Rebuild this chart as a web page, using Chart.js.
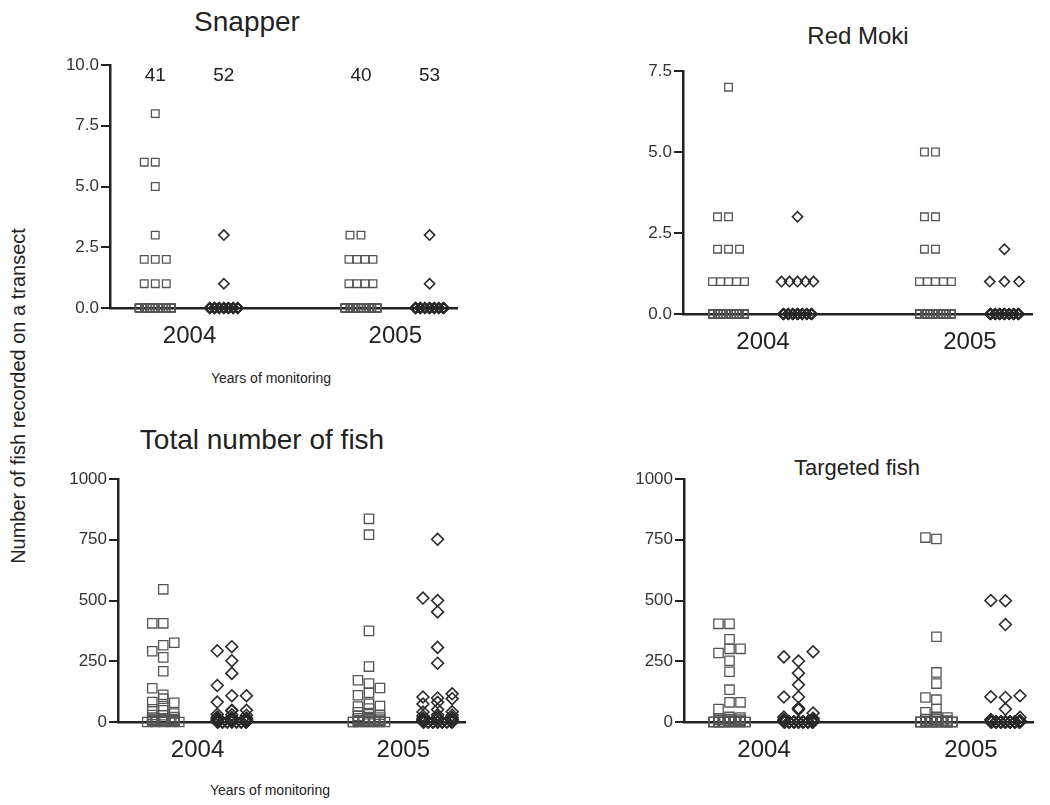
<!DOCTYPE html>
<html>
<head>
<meta charset="utf-8">
<script src="https://cdn.jsdelivr.net/npm/chart.js@4.4.1/dist/chart.umd.min.js"></script>
<style>
  html, body { margin: 0; padding: 0; background: #fff; }
  body { width: 1050px; height: 805px; position: relative; overflow: hidden;
         font-family: "Liberation Sans", Arial, sans-serif; color: #222; }
  canvas { position: absolute; }
  .txt { position: absolute; white-space: nowrap; transform: translate(-50%, -50%); }
  .axis-title { font-size: 14px; }
  .ylab { font-size: 20px; transform: translate(-50%, -50%) rotate(-90deg); }
</style>
</head>
<body>
<div class="txt" style="left:247px;top:22px;font-size:28px">Snapper</div>
<div class="txt" style="left:858px;top:36px;font-size:24px">Red Moki</div>
<div class="txt" style="left:262px;top:440px;font-size:28px">Total number of fish</div>
<div class="txt" style="left:857px;top:468px;font-size:22px">Targeted fish</div>
<div class="txt axis-title" style="left:271px;top:378px">Years of monitoring</div>
<div class="txt axis-title" style="left:270px;top:790px">Years of monitoring</div>
<div class="txt ylab" style="left:18px;top:396px">Number of fish recorded on a transect</div>

<canvas id="snapper" width="427" height="318" style="left:40px;top:50px"></canvas>
<canvas id="moki" width="429" height="318" style="left:613px;top:56px"></canvas>
<canvas id="total" width="427" height="318" style="left:48px;top:464px"></canvas>
<canvas id="targeted" width="429" height="318" style="left:614px;top:464px"></canvas>

<script>
// Monitoring years and transect sample sizes per site
const years = ['2004', '2005'];
const snapperN = [41, 52, 40, 53];

// Snapper counts per transect (site A = squares, site B = diamonds)
const snapperA2004 = [8, 6, 6, 5, 3, 2, 2, 2, 1, 1, 1,
  0, 0, 0, 0, 0, 0, 0, 0, 0, 0, 0, 0, 0, 0, 0, 0, 0, 0, 0, 0, 0, 0, 0, 0, 0, 0, 0, 0, 0, 0];
const snapperB2004 = [3, 1,
  0, 0, 0, 0, 0, 0, 0, 0, 0, 0, 0, 0, 0, 0, 0, 0, 0, 0, 0, 0, 0, 0, 0, 0, 0,
  0, 0, 0, 0, 0, 0, 0, 0, 0, 0, 0, 0, 0, 0, 0, 0, 0, 0, 0, 0, 0, 0, 0, 0, 0];
const snapperA2005 = [3, 3, 2, 2, 2, 2, 1, 1, 1, 1,
  0, 0, 0, 0, 0, 0, 0, 0, 0, 0, 0, 0, 0, 0, 0, 0, 0, 0, 0, 0, 0, 0, 0, 0, 0, 0, 0, 0, 0, 0];
const snapperB2005 = [3, 1,
  0, 0, 0, 0, 0, 0, 0, 0, 0, 0, 0, 0, 0, 0, 0, 0, 0, 0, 0, 0, 0, 0, 0, 0, 0,
  0, 0, 0, 0, 0, 0, 0, 0, 0, 0, 0, 0, 0, 0, 0, 0, 0, 0, 0, 0, 0, 0, 0, 0, 0, 0];

// Red moki counts per transect
const mokiA2004 = [7, 3, 3, 2, 2, 2, 1, 1, 1, 1, 1,
  0, 0, 0, 0, 0, 0, 0, 0, 0, 0, 0, 0, 0, 0, 0, 0, 0, 0, 0, 0, 0, 0, 0, 0, 0, 0, 0, 0, 0, 0];
const mokiB2004 = [3, 1, 1, 1, 1, 1,
  0, 0, 0, 0, 0, 0, 0, 0, 0, 0, 0, 0, 0, 0, 0, 0, 0, 0, 0, 0, 0, 0, 0,
  0, 0, 0, 0, 0, 0, 0, 0, 0, 0, 0, 0, 0, 0, 0, 0, 0, 0, 0, 0, 0, 0, 0];
const mokiA2005 = [5, 5, 3, 3, 2, 2, 1, 1, 1, 1, 1,
  0, 0, 0, 0, 0, 0, 0, 0, 0, 0, 0, 0, 0, 0, 0, 0, 0, 0, 0, 0, 0, 0, 0, 0, 0, 0, 0, 0];
const mokiB2005 = [2, 1, 1, 1,
  0, 0, 0, 0, 0, 0, 0, 0, 0, 0, 0, 0, 0, 0, 0, 0, 0, 0, 0, 0, 0, 0, 0, 0, 0,
  0, 0, 0, 0, 0, 0, 0, 0, 0, 0, 0, 0, 0, 0, 0, 0, 0, 0, 0, 0, 0, 0, 0, 0];

// Total number of fish per transect
const totalA2004 = [546, 406, 406, 326, 316, 291, 266, 209, 139, 112, 96, 82, 79, 66, 52, 48,
  35, 29, 28, 20, 18, 15, 12, 10, 10, 8, 6, 5, 5, 4, 3, 3, 2, 2, 1, 1, 0, 0, 0, 0, 0];
const totalB2004 = [310, 293, 252, 200, 150, 108, 108, 82, 48, 48, 46, 32, 30, 28, 20, 18,
  16, 15, 12, 10, 10, 8, 8, 6, 5, 5, 4, 4, 3, 3, 2, 2, 2, 1, 1, 1,
  0, 0, 0, 0, 0, 0, 0, 0, 0, 0, 0, 0, 0, 0, 0, 0];
const totalA2005 = [836, 771, 375, 228, 172, 158, 140, 120, 110, 75, 66, 64, 55, 40, 32, 30,
  25, 20, 18, 15, 12, 10, 8, 6, 5, 5, 4, 3, 2, 2, 1, 1, 0, 0, 0, 0, 0, 0, 0, 0];
const totalB2005 = [752, 510, 500, 453, 307, 242, 116, 103, 99, 96, 81, 74, 51, 42, 41, 30,
  28, 25, 20, 18, 15, 12, 10, 10, 8, 6, 5, 4, 3, 3, 2, 2, 1, 1,
  0, 0, 0, 0, 0, 0, 0, 0, 0, 0, 0, 0, 0, 0, 0, 0, 0, 0, 0];

// Targeted fish per transect
const targetA2004 = [404, 404, 340, 301, 301, 284, 252, 207, 133, 81, 81, 53, 21, 18, 15, 12,
  10, 8, 6, 5, 4, 3, 2, 1, 0, 0, 0, 0, 0, 0, 0, 0, 0, 0, 0, 0, 0, 0, 0, 0, 0];
const targetB2004 = [289, 268, 251, 201, 153, 103, 103, 57, 51, 37, 20, 15, 10, 8, 5, 4, 3, 2, 1,
  0, 0, 0, 0, 0, 0, 0, 0, 0, 0, 0, 0, 0, 0, 0, 0, 0, 0, 0, 0, 0, 0, 0, 0, 0, 0, 0, 0, 0, 0, 0, 0, 0];
const targetA2005 = [759, 753, 351, 204, 158, 101, 92, 53, 40, 21, 18, 12, 10, 6, 5, 3, 2, 1,
  0, 0, 0, 0, 0, 0, 0, 0, 0, 0, 0, 0, 0, 0, 0, 0, 0, 0, 0, 0, 0, 0];
const targetB2005 = [500, 499, 401, 108, 104, 101, 53, 19, 10, 5, 3, 2, 1,
  0, 0, 0, 0, 0, 0, 0, 0, 0, 0, 0, 0, 0, 0, 0, 0, 0, 0, 0, 0, 0, 0, 0, 0, 0, 0, 0,
  0, 0, 0, 0, 0, 0, 0, 0, 0, 0, 0, 0, 0];

// Column positions on the x axis: two sites per year
const yearPos = [1.5, 4.5];
const sitePos = [1, 2, 4, 5];

const FONT = '"Liberation Sans", Arial, sans-serif';
const INK = '#222';

// Spread points of one column sideways so that they do not sit on top of each other.
// Runs of equal values are laid out in a row (long runs overlap within a fixed width);
// other points take the first free slot among centre, left and right.
const swarm = {
  id: 'swarm',
  afterDatasetsUpdate(chart) {
    chart.data.datasets.forEach((ds, i) => {
      const els = chart.getDatasetMeta(i).data;
      const step = ds.swarmStep, size = ds.swarmSize, half = ds.swarmHalf;
      const order = els.map((e, k) => k).sort((a, b) => ds.data[a].y - ds.data[b].y);
      const placed = [];
      let k = 0;
      while (k < order.length) {
        let j = k;
        while (j < order.length && ds.data[order[j]].y === ds.data[order[k]].y) j++;
        const n = j - k;
        if (n >= 4) {
          const m = n <= 5 ? n : 7;
          const sp = n <= 5 ? 8 : (2 * half) / (m - 1);
          for (let t = 0; t < n; t++) {
            const el = els[order[k + t]];
            el.x += ((t % m) - (m - 1) / 2) * sp;
            placed.push(el);
          }
        } else {
          for (let t = 0; t < n; t++) {
            const el = els[order[k + t]];
            const base = el.x;
            let best = base, bestHits = Infinity;
            for (const s of [0, -1, 1]) {
              const x = base + s * step;
              const hits = placed.filter(p => Math.abs(p.x - x) < step * 0.9 && Math.abs(p.y - el.y) < size).length;
              if (hits < bestHits) { bestHits = hits; best = x; if (hits === 0) break; }
            }
            el.x = best;
            placed.push(el);
          }
        }
        k = j;
      }
    });
  }
};

// Sample sizes written above each column
const countLabels = {
  id: 'countLabels',
  afterDatasetsDraw(chart, args, opts) {
    if (!opts || !opts.values) return;
    const { ctx, scales: { x, y } } = chart;
    ctx.save();
    ctx.font = '19px ' + FONT;
    ctx.fillStyle = INK;
    ctx.textAlign = 'center';
    ctx.textBaseline = 'middle';
    opts.values.forEach((v, i) => ctx.fillText(String(v), x.getPixelForValue(sitePos[i]), y.top + 11));
    ctx.restore();
  }
};

function column(values, pos, square, big) {
  return {
    data: values.map(v => ({ x: pos, y: v })),
    pointStyle: square ? 'rect' : 'rectRot',
    pointRadius: square ? (big ? 6.6 : 5.4) : (big ? 5.9 : 5.1),
    pointBorderWidth: square ? 1.3 : 1.6,
    pointBorderColor: square ? '#555' : '#2a2a2a',
    pointBackgroundColor: 'rgba(0,0,0,0)',
    showLine: false,
    clip: false,
    swarmStep: square ? 11 : 14.6,
    swarmSize: square ? (big ? 9 : 7.5) : (big ? 11 : 10),
    swarmHalf: square ? 16 : 14
  };
}

function panel(id, cols, yMax, yStep, decimals, big, counts) {
  const datasets = cols.map((vals, i) => column(vals, sitePos[i], i % 2 === 0, big));
  new Chart(document.getElementById(id), {
    type: 'scatter',
    data: { datasets },
    plugins: [swarm, countLabels],
    options: {
      responsive: false,
      animation: false,
      events: [],
      layout: { padding: { top: 15, right: 10, left: 0, bottom: 0 } },
      plugins: {
        legend: { display: false },
        tooltip: { enabled: false },
        countLabels: { values: counts }
      },
      scales: {
        x: {
          type: 'linear',
          min: 0.34,
          max: 5.4,
          afterFit: s => { s.height = 60; },
          afterBuildTicks: s => { s.ticks = yearPos.map(v => ({ value: v })); },
          grid: { display: false },
          border: { display: true, color: INK, width: 2.5 },
          ticks: {
            callback: (v, i) => years[i],
            color: INK,
            padding: 6,
            maxRotation: 0,
            autoSkip: false,
            font: { family: FONT, size: 24 }
          }
        },
        y: {
          min: 0,
          max: yMax,
          afterFit: s => { s.width = 70; },
          afterBuildTicks: s => {
            const t = [];
            for (let v = 0; v <= yMax + 1e-9; v += yStep) t.push({ value: v });
            s.ticks = t;
          },
          grid: { display: true, drawOnChartArea: false, drawTicks: true, tickLength: 9, color: INK, lineWidth: 2 },
          border: { display: true, color: INK, width: 2.5 },
          ticks: {
            callback: v => Number(v).toFixed(decimals),
            color: '#333',
            padding: 2,
            font: { family: FONT, size: 17 }
          }
        }
      }
    }
  });
}

panel('snapper', [snapperA2004, snapperB2004, snapperA2005, snapperB2005], 10, 2.5, 1, false, snapperN);
panel('moki', [mokiA2004, mokiB2004, mokiA2005, mokiB2005], 7.5, 2.5, 1, false, null);
panel('total', [totalA2004, totalB2004, totalA2005, totalB2005], 1000, 250, 0, true, null);
panel('targeted', [targetA2004, targetB2004, targetA2005, targetB2005], 1000, 250, 0, true, null);
</script>
</body>
</html>
